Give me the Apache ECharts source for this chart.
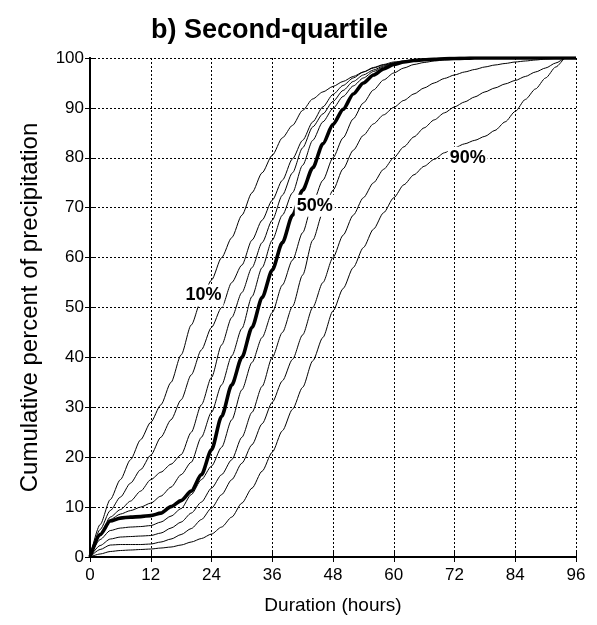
<!DOCTYPE html>
<html>
<head>
<meta charset="utf-8">
<script src="https://cdn.jsdelivr.net/npm/echarts@6/dist/echarts.min.js"></script>
<style>
html,body{margin:0;padding:0;background:#fff;}
#chart{width:597px;height:625px;}
</style>
</head>
<body>
<div id="chart"></div>
<script>
// Duration (hours) sample points
var hours = [0,2,4,6,8,10,12,14,16,18,20,22,24,26,28,30,32,34,36,38,40,42,44,46,48,50,52,54,56,58,60,62,64,66,68,70,72,74,76,78,80,82,84,86,88,90,92,94,96];

// Cumulative percent of precipitation, one array per probability curve
var p10 = [0,6.5,11.5,15.5,19.5,23.5,27,30.5,35,40.5,46.5,51.5,55.5,60,64,68.5,73,77,80.5,84,86.5,89.5,91.8,93.2,94.3,95.3,96.3,97.2,98,98.6,99,99.3,99.5,99.6,99.7,99.8,99.85,99.9,100,100,100,100,100,100,100,100,100,100,100];
var p20 = [0,5.5,9.3,12,14.8,17.5,20.4,24,27.5,31.5,36.5,41.5,46,50,55,58.5,63.5,67.5,71.5,75.5,79.8,83.5,87.2,90.2,92.7,94.5,96,97.2,98.1,98.7,99.2,99.4,99.6,99.7,99.8,99.85,99.9,99.95,100,100,100,100,100,100,100,100,100,100,100];
var p30 = [0,4.5,8,9.5,11.2,13.2,15.5,17,18.6,20.5,25,30.5,36,42.5,48,53,58,63,67.5,72.5,77,82,86.2,88.8,91.3,93.5,95.3,96.6,97.6,98.4,99,99.3,99.5,99.65,99.75,99.85,99.9,99.95,100,100,100,100,100,100,100,100,100,100,100];
var p40 = [0,4.2,7.5,8.6,9.3,10,10.8,12.2,14,16.5,19,24,29,34.5,40.3,45.8,52.2,58,63.5,68.5,73,78.5,83.5,87.2,89.9,92.3,94.4,96,97.3,98.2,98.9,99.3,99.5,99.65,99.75,99.85,99.9,99.95,100,100,100,100,100,100,100,100,100,100,100];
var p50 = [0,4.5,7.2,7.8,8,8.1,8.3,8.8,10.1,11.3,13.2,16.5,21.5,28.2,34.5,40,46,52,57.5,63,68.5,73.5,78,82.8,86.7,89.7,92.8,95,96.6,97.8,98.7,99.2,99.5,99.65,99.75,99.85,99.9,99.95,100,100,100,100,100,100,100,100,100,100,100];
var p60 = [0,3.5,5.3,5.8,6,6.1,6.3,7,8.2,9.7,12.5,15.5,18.2,22,27.5,33.5,39,44,49,54.5,59.5,65,71,75.5,80,84,87.8,91,93.6,95.6,97,98,98.7,99.1,99.4,99.6,99.75,99.85,99.9,99.95,100,100,100,100,100,100,100,100,100];
var p70 = [0,2.3,3.6,4,4.1,4.2,4.3,4.8,5.8,7,8.8,11,13.8,16.5,19.5,24,29,34.2,40,45,50.2,56.5,63.5,69,73.5,77.8,81.5,84.5,86.8,88.6,90.1,91.5,92.8,94,95,95.9,96.6,97.2,97.7,98.2,98.6,98.9,99.2,99.4,99.6,99.8,99.9,100,100];
var p80 = [0,1.5,2.4,2.5,2.5,2.5,2.6,3,3.6,4.5,5.7,7.5,9.8,12.5,15.5,18.8,22.5,26.7,31,35.3,39.6,44.5,50,55,60,64.5,68.5,72,75,77.7,80,82.2,84.2,86,87.6,89,90.2,91.2,92.2,93.2,94,94.8,95.5,96.3,97.2,98,99,100,100];
var p90 = [0,0.6,1.1,1.3,1.4,1.5,1.6,1.8,2,2.4,3,3.7,4.6,6,8,10.8,13.8,17.2,21,25.3,29.6,34,39.3,44,49.3,53.8,58,62,65.7,69,72,74.6,76.6,78.3,79.7,81,82,82.8,83.5,84.3,85.5,87.2,89.3,91.7,93.8,96,98.2,100,100];

// Curve annotations
var labelTexts = ['10%', '50%', '90%'];
var labelHours = [22.4, 44.4, 74.6];
var labelValues = [52.4, 70.4, 80];

var curves = [p10,p20,p30,p40,p50,p60,p70,p80,p90];
var FONT = 'Liberation Sans, Arial, Helvetica, sans-serif';

var series = curves.map(function (vals, k) {
  return {
    type: 'line',
    data: hours.map(function (h, i) { return [h, vals[i]]; }),
    showSymbol: false,
    smooth: 0.25,
    smoothMonotone: 'x',
    silent: true,
    lineStyle: { color: '#000', width: k === 4 ? 3.6 : 1 },
    z: k === 4 ? 4 : 3
  };
});
series.push({
  type: 'scatter',
  data: labelHours.map(function (h, i) { return [h, labelValues[i], labelTexts[i]]; }),
  symbolSize: 1,
  itemStyle: { color: '#fff', opacity: 1 },
  silent: true,
  z: 10,
  label: {
    show: true,
    position: 'inside',
    formatter: function (p) { return p.data[2]; },
    color: '#000',
    opacity: 1,
    fontFamily: FONT,
    fontSize: 18,
    fontWeight: 'bold',
    backgroundColor: '#fff',
    padding: [2, 2]
  },
  emphasis: { disabled: true }
});

var axisLineStyle = { color: '#000', width: 2 };
var gridLine = { show: true, lineStyle: { color: '#000', width: 1, type: [2, 2] } };

var chart = echarts.init(document.getElementById('chart'), null, { renderer: 'canvas' });
chart.setOption({
  animation: false,
  backgroundColor: '#fff',
  title: {
    text: 'b) Second-quartile',
    left: 151,
    top: 17,
    padding: 0,
    textStyle: { fontFamily: FONT, fontSize: 27, fontWeight: 'bold', color: '#000' }
  },
  grid: { left: 90, right: 21, top: 58, bottom: 68 },
  xAxis: [{
    type: 'value', min: 0, max: 96, interval: 12, position: 'bottom',
    name: 'Duration (hours)', nameLocation: 'middle', nameGap: 39,
    nameTextStyle: { fontFamily: FONT, fontSize: 19, color: '#000' },
    axisLine: { show: true, lineStyle: axisLineStyle },
    axisTick: { show: true, inside: true, length: 5, lineStyle: { color: '#000', width: 1 } },
    axisLabel: { color: '#000', fontFamily: FONT, fontSize: 17, margin: 10 },
    splitLine: gridLine
  }, {
    type: 'value', min: 0, max: 96, interval: 12, position: 'top',
    axisLine: { show: true, lineStyle: axisLineStyle },
    axisTick: { show: true, inside: true, length: 5, lineStyle: { color: '#000', width: 1 } },
    axisLabel: { show: false },
    splitLine: { show: false }
  }],
  yAxis: [{
    type: 'value', min: 0, max: 100, interval: 10, position: 'left',
    name: 'Cumulative percent of precipitation', nameLocation: 'middle', nameGap: 48,
    nameTextStyle: { fontFamily: FONT, fontSize: 24, color: '#000' },
    axisLine: { show: true, lineStyle: axisLineStyle },
    axisTick: { show: true, inside: true, length: 5, lineStyle: { color: '#000', width: 1 } },
    axisLabel: { color: '#000', fontFamily: FONT, fontSize: 17, margin: 6 },
    splitLine: gridLine
  }, {
    type: 'value', min: 0, max: 100, interval: 10, position: 'right',
    axisLine: { show: true, lineStyle: axisLineStyle },
    axisTick: { show: true, inside: true, length: 5, lineStyle: { color: '#000', width: 1 } },
    axisLabel: { show: false },
    splitLine: { show: false }
  }],
  series: series
});
</script>
</body>
</html>
